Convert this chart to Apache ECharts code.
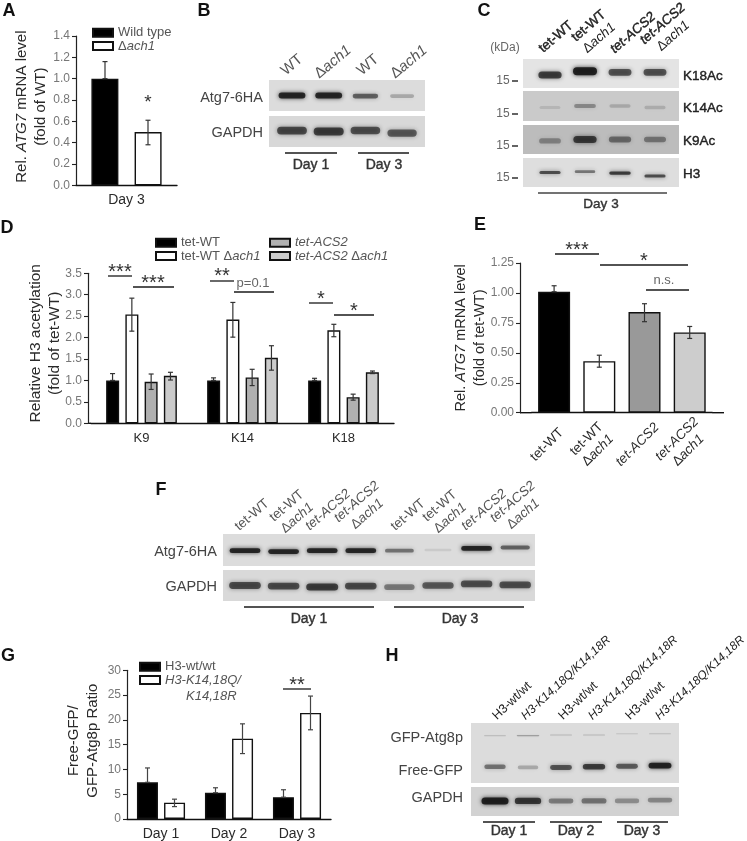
<!DOCTYPE html>
<html>
<head>
<meta charset="utf-8">
<style>
  html, body { margin: 0; background: #fff; }
  #main { width: 747px; height: 841px; }
</style>
<script src="https://cdn.jsdelivr.net/npm/echarts@6/dist/echarts.min.js"></script>
</head>
<body>
<div id="main"></div>
<script>
// panel A
const aCats = ['Day 3'];
const aWild = [1.0];
const aWildHi = [1.16];
const aAch1 = [0.5];
const aAch1Lo = [0.38];
const aAch1Hi = [0.61];

// panel D
const dCats = ['K9', 'K14', 'K18'];
const dTetWt = [1.0, 1.0, 1.0];
const dTetWtHi = [1.16, 1.06, 1.05];
const dTetWtAch1 = [2.54, 2.42, 2.17];
const dTetWtAch1Lo = [2.15, 2.01, 2.02];
const dTetWtAch1Hi = [2.92, 2.82, 2.31];
const dAcs2 = [0.97, 1.07, 0.61];
const dAcs2Lo = [0.79, 0.88, 0.54];
const dAcs2Hi = [1.15, 1.26, 0.68];
const dAcs2Ach1 = [1.11, 1.53, 1.19];
const dAcs2Ach1Lo = [1.01, 1.24, 1.16];
const dAcs2Ach1Hi = [1.19, 1.81, 1.22];

// panel E
const eCats = ['tet-WT', 'tet-WT Δach1', 'tet-ACS2', 'tet-ACS2 Δach1'];
const eValues = [1.01, 0.43, 0.84, 0.67];
const eLo = [1.01, 0.38, 0.76, 0.62];
const eHi = [1.06, 0.48, 0.91, 0.72];

// panel G
const gCats = ['Day 1', 'Day 2', 'Day 3'];
const gWt = [7.4, 5.3, 4.4];
const gWtHi = [10.3, 6.3, 5.9];
const gMut = [3.3, 16.2, 21.4];
const gMutLo = [2.5, 13.2, 18.0];
const gMutHi = [4.0, 19.2, 24.8];

// blot band strength per lane (0-1), read by eye
const bAtg7 = [0.95, 0.95, 0.6, 0.22];
const bGapdh = [0.72, 0.78, 0.68, 0.62];
const cK18 = [0.78, 1.0, 0.68, 0.68];
const cK14 = [0.06, 0.32, 0.14, 0.12];
const cK9 = [0.32, 0.78, 0.48, 0.4];
const cH3 = [0.72, 0.5, 0.82, 0.72];
const fAtg7 = [0.97, 0.95, 0.95, 0.95, 0.5, 0.04, 0.97, 0.58];
const fGapdh = [0.7, 0.7, 0.78, 0.7, 0.45, 0.62, 0.68, 0.68];
const hGfpAtg8 = [0.1, 0.26, 0.14, 0.14, 0.08, 0.12];
const hFreeGfp = [0.5, 0.22, 0.65, 0.8, 0.62, 0.98];
const hGapdh = [1.0, 0.82, 0.42, 0.46, 0.32, 0.36];

const FONT = '"Liberation Sans", Arial, sans-serif';
const TICK = '#777';
const INK = '#2a2a2a';

function toks(size, color) {
  const base = { fontSize: size, color: color, fill: color, fontFamily: FONT };
  return {
    i: Object.assign({ fontStyle: 'italic' }, base),
    n: Object.assign({}, base),
    s: Object.assign({ stroke: color, lineWidth: 0.4 }, base),
    si: Object.assign({ fontStyle: 'italic', stroke: color, lineWidth: 0.4 }, base)
  };
}

let grids = [], xAxes = [], yAxes = [], series = [], graphics = [];

function txt(x, y, text, o) {
  o = o || {};
  const size = o.size || 14, color = o.color || INK;
  const style = {
    text: text, fontFamily: FONT, fontSize: size, fontWeight: o.weight || 'normal',
    fontStyle: o.italic ? 'italic' : 'normal',
    fill: color, align: o.align || 'center', verticalAlign: 'middle', rich: toks(size, color),
    lineHeight: o.lh
  };
  if (o.semi) {
    style.stroke = color;
    style.lineWidth = 0.4;
  }
  graphics.push({ type: 'text', x: x, y: y, rotation: (o.rot || 0) * Math.PI / 180, silent: true, style: style });
}

function rule(x0, x1, y, color, w) {
  graphics.push({
    type: 'line', silent: true,
    shape: { x1: x0, y1: y, x2: x1, y2: y },
    style: { stroke: color || '#1a1a1a', lineWidth: w || 1.3 }
  });
}

// sig bar with its label above
function bracket(x0, x1, y, label, lx, ly, size, color) {
  rule(x0, x1, y);
  txt(lx, ly, label, { size: size || 20, color: color || '#333' });
}

function barOffset(i, n, w, gap) {
  return -((n * w + (n - 1) * gap) / 2) + w / 2 + i * (w + gap);
}

function errorBars(g, lo, hi, off, color) {
  series.push({
    type: 'custom', xAxisIndex: g, yAxisIndex: g, z: 5, silent: true,
    data: lo.map((v, i) => [i, v, hi[i]]),
    encode: { x: 0, y: [1, 2] },
    renderItem: function (params, api) {
      const a = api.coord([api.value(0), api.value(1)]);
      const b = api.coord([api.value(0), api.value(2)]);
      const x = a[0] + off;
      const st = { stroke: color || '#333', lineWidth: 1.2, fill: null };
      return {
        type: 'group',
        children: [
          { type: 'line', shape: { x1: x, y1: a[1], x2: x, y2: b[1] }, style: st },
          { type: 'line', shape: { x1: x - 2.5, y1: b[1], x2: x + 2.5, y2: b[1] }, style: st },
          { type: 'line', shape: { x1: x - 2.5, y1: a[1], x2: x + 2.5, y2: a[1] }, style: st }
        ]
      };
    }
  });
}

function barSeries(g, name, data, w, gapPct, fill, border) {
  series.push({
    name: name, type: 'bar', xAxisIndex: g, yAxisIndex: g, data: data, barWidth: w, barGap: gapPct,
    itemStyle: { color: fill, borderColor: border || '#111', borderWidth: 1.4 }, silent: true
  });
}

function chartPanel(o) {
  const g = grids.length;
  grids.push({ left: o.left, top: o.top, width: o.width, height: o.height });
  xAxes.push({
    gridIndex: g, type: 'category', data: o.cats,
    axisLine: { lineStyle: { color: '#111', width: 1.4 } },
    axisTick: { alignWithLabel: true, length: 4, lineStyle: { color: '#111', width: 1.2 } },
    axisLabel: Object.assign({ fontFamily: FONT, fontSize: o.catSize || 14, color: INK, margin: o.catMargin || 8, interval: 0 }, o.catLabel || {})
  });
  yAxes.push({
    gridIndex: g, type: 'value', min: o.min, max: o.max, interval: o.interval, offset: o.yOffset || 0,
    name: o.name, nameLocation: 'middle', nameRotate: 90, nameGap: o.nameGap, nameMoveOverlap: false,
    nameTextStyle: { fontFamily: FONT, fontSize: o.nameSize || 15, color: INK, lineHeight: o.nameLh || 19, rich: toks(o.nameSize || 15, INK), padding: o.namePad || 0 },
    axisLine: { show: true, lineStyle: { color: '#222', width: 1.2 } },
    axisTick: { show: true, length: 4, lineStyle: { color: '#222', width: 1.1 } },
    axisLabel: { fontFamily: FONT, fontSize: 12, color: TICK, margin: 6, formatter: v => v.toFixed(o.digits) },
    splitLine: { show: false }
  });
  return g;
}

// one blot strip: hidden value axes, lane index on x, height fraction on y
function blot(o) {
  const g = grids.length;
  grids.push({ left: o.left, top: o.top, width: o.width, height: o.height, show: true, backgroundColor: o.bg, borderWidth: 0 });
  xAxes.push({
    gridIndex: g, type: 'value', show: false, scale: true,
    min: (o.left - o.lane0) / o.step, max: (o.left + o.width - o.lane0) / o.step, splitLine: { show: false }
  });
  yAxes.push({ gridIndex: g, type: 'value', show: false, inverse: true, min: 0, max: 1, splitLine: { show: false } });
  o.rows.forEach(function (row) {
    series.push({
      type: 'custom', xAxisIndex: g, yAxisIndex: g, silent: true, z: 3,
      data: row.values.map((v, i) => [i, row.y[i], v]),
      encode: { x: 0, y: 1 },
      renderItem: function (params, api) {
        const p = api.coord([api.value(0), api.value(1)]);
        const a = api.value(2);
        const c = 'rgba(22,22,22,' + (0.06 + 0.84 * a).toFixed(2) + ')';
        const w = row.w * (0.86 + 0.14 * a);
        const h = row.h * (0.5 + 0.5 * a);
        return {
          type: 'rect',
          shape: { x: p[0] - w / 2, y: p[1] - h / 2, width: w, height: h, r: h / 2 },
          style: { fill: c, shadowBlur: row.blur || 4, shadowColor: c }
        };
      }
    });
  });
}

// ---------- A ----------
const A = chartPanel({
  left: 76, top: 36, width: 101, height: 149.3, cats: aCats, min: 0, max: 1.4, interval: 0.2, digits: 1,
  name: 'Rel. {i|ATG7} mRNA level\n{n|(fold of WT)}', nameGap: 26, namePad: [0, 0, 0, 8]
});
barSeries(A, 'Wild type', aWild, 27, '60%', '#000');
barSeries(A, 'Δach1', aAch1, 27, '60%', '#fff');
errorBars(A, aWild, aWildHi, barOffset(0, 2, 27, 16), '#333');
errorBars(A, aAch1Lo, aAch1Hi, barOffset(1, 2, 27, 16), '#333');

// ---------- D ----------
const D = chartPanel({
  left: 91, top: 273.3, width: 303, height: 150, cats: dCats, min: 0, max: 3.5, interval: 0.5, digits: 1,
  yOffset: 3, catSize: 13, catMargin: 9,
  name: 'Relative H3 acetylation\n(fold of tet-WT)', nameGap: 24, nameSize: 15.5, namePad: [0, 0, 0, 10]
});
[[dTetWt, dTetWt, dTetWtHi, '#000', 'tet-WT'],
 [dTetWtAch1, dTetWtAch1Lo, dTetWtAch1Hi, '#fff', 'tet-WT Δach1'],
 [dAcs2, dAcs2Lo, dAcs2Hi, '#b0b0b0', 'tet-ACS2'],
 [dAcs2Ach1, dAcs2Ach1Lo, dAcs2Ach1Hi, '#cbcbcb', 'tet-ACS2 Δach1']].forEach(function (s, i) {
  barSeries(D, s[4], s[0], 13, '48%', s[3]);
  errorBars(D, s[1], s[2], barOffset(i, 4, 13, 6.3), '#333');
});
rule(88, 91, 423.3, '#111', 1.4);

// ---------- E ----------
const eNames = {
  'tet-WT': '{n|tet-WT}',
  'tet-WT Δach1': '{n|tet-WT}\n{n|Δ}{i|ach1}',
  'tet-ACS2': '{i|tet-ACS2}',
  'tet-ACS2 Δach1': '{i|tet-ACS2}\n{n|Δ}{i|ach1}'
};
const E = chartPanel({
  left: 531.5, top: 263, width: 180.8, height: 149.7, cats: eCats, min: 0, max: 1.25, interval: 0.25, digits: 2,
  yOffset: 11.5,
  catLabel: {
    rotate: 45, align: 'center', verticalAlign: 'middle', margin: 25, padding: [0, 20, 0, 0],
    formatter: v => eNames[v], rich: toks(13.5, INK), lineHeight: 16
  },
  name: 'Rel. {i|ATG7} mRNA level\n{n|(fold of tet-WT)}', nameGap: 31, nameSize: 14.5
});
series.push({
  type: 'bar', xAxisIndex: E, yAxisIndex: E, barWidth: 32, silent: true,
  data: eValues.map((v, i) => ({ value: v, itemStyle: { color: ['#000', '#fff', '#999', '#cdcdcd'][i], borderColor: '#111', borderWidth: 1.4 } }))
});
errorBars(E, eLo, eHi, 0, '#333');
rule(520, 531.5, 412.7, '#111', 1.4);
rule(712.3, 724, 412.7, '#111', 1.4);

// ---------- G ----------
const G = chartPanel({
  left: 127, top: 670.3, width: 204, height: 149.7, cats: gCats, min: 0, max: 30, interval: 5, digits: 0,
  name: '{n|Free-GFP/}\n{n|GFP-Atg8p Ratio}', nameGap: 25, nameSize: 15, namePad: [0, 0, 0, 8]
});
barSeries(G, 'H3-wt/wt', gWt, 21, '29%', '#000');
barSeries(G, 'H3-K14,18Q/', gMut, 21, '29%', '#fff');
errorBars(G, gWt, gWtHi, barOffset(0, 2, 21, 6), '#444');
errorBars(G, gMutLo, gMutHi, barOffset(1, 2, 21, 6), '#444');

// ---------- blots ----------
// B
blot({ left: 269, top: 80, width: 156, height: 31, bg: '#dcdcdc', lane0: 292, step: 36.7, rows: [{ values: bAtg7, y: [0.5, 0.5, 0.52, 0.52], w: 27, h: 6 }] });
blot({ left: 269, top: 116, width: 156, height: 31, bg: '#d8d8d8', lane0: 292, step: 36.7, rows: [{ values: bGapdh, y: [0.47, 0.5, 0.47, 0.55], w: 31, h: 9 }] });
// C
blot({ left: 523, top: 59, width: 156, height: 29, bg: '#e4e4e4', lane0: 550, step: 35, rows: [{ values: cK18, y: [0.55, 0.42, 0.46, 0.46], w: 24, h: 8 }] });
blot({ left: 523, top: 91, width: 156, height: 30, bg: '#cacaca', lane0: 550, step: 35, rows: [{ values: cK14, y: [0.55, 0.5, 0.5, 0.55], w: 24, h: 6 }] });
blot({ left: 523, top: 125, width: 156, height: 29, bg: '#bcbcbc', lane0: 550, step: 35, rows: [{ values: cK9, y: [0.55, 0.5, 0.5, 0.5], w: 24, h: 8 }] });
blot({ left: 523, top: 158, width: 156, height: 29, bg: '#dedede', lane0: 550, step: 35, rows: [{ values: cH3, y: [0.5, 0.47, 0.52, 0.62], w: 22, h: 3.5 }] });
// F
blot({ left: 223, top: 534, width: 312, height: 32, bg: '#dcdcdc', lane0: 245, step: 38.6, rows: [{ values: fAtg7, y: [0.52, 0.55, 0.52, 0.52, 0.52, 0.5, 0.45, 0.42], w: 31, h: 5 }] });
blot({ left: 223, top: 570, width: 312, height: 31, bg: '#d9d9d9', lane0: 245, step: 38.6, rows: [{ values: fGapdh, y: [0.5, 0.52, 0.55, 0.52, 0.55, 0.5, 0.45, 0.48], w: 33, h: 8 }] });
// H
blot({
  left: 471, top: 723, width: 208, height: 60, bg: '#dcdcdc', lane0: 495, step: 33,
  rows: [
    { values: hGfpAtg8, y: [0.21, 0.21, 0.2, 0.2, 0.18, 0.18], w: 25, h: 2, blur: 2 },
    { values: hFreeGfp, y: [0.73, 0.74, 0.74, 0.73, 0.72, 0.71], w: 23, h: 6 }
  ]
});
blot({ left: 471, top: 787, width: 208, height: 29, bg: '#d2d2d2', lane0: 495, step: 33, rows: [{ values: hGapdh, y: [0.48, 0.48, 0.48, 0.48, 0.48, 0.45], w: 27, h: 7 }] });

// ---------- panel letters ----------
[['A', 9, 11], ['B', 204, 11], ['C', 484, 11], ['D', 7, 228], ['E', 480, 225], ['F', 161, 490], ['G', 8, 656], ['H', 392, 656]].forEach(function (p) {
  txt(p[1], p[2], p[0], { size: 18, weight: 'bold', color: '#111' });
});

// ---------- sig marks ----------
txt(148, 103, '*', { size: 19, color: '#333' });
bracket(108, 132, 276, '***', 120, 272);
bracket(133, 174, 287, '***', 153, 283);
bracket(210, 234, 281, '**', 222, 276);
bracket(234, 274, 292, 'p=0.1', 253, 283, 13, '#666');
bracket(309, 333, 303, '*', 321, 299);
bracket(334, 374, 315, '*', 354, 311);
bracket(555, 599, 254, '***', 577, 250);
bracket(600, 688, 265, '*', 644, 261);
bracket(646, 689, 290, 'n.s.', 664, 280, 13, '#666');
bracket(283, 311, 689, '**', 297, 685);
txt(186, 696, '{i|K14,18R}', { size: 13, color: '#555', align: 'left' });

// ---------- blot labels ----------
function rightLabels(list, x) {
  list.forEach(l => txt(x, l[1], l[0], { align: 'right', size: 14.5, color: '#444' }));
}
rightLabels([['Atg7-6HA', 98], ['GAPDH', 133]], 263);
rightLabels([['Atg7-6HA', 552], ['GAPDH', 587]], 217);
rightLabels([['GFP-Atg8p', 738], ['Free-GFP', 771], ['GAPDH', 798]], 463);

// B
txt(292, 65, 'WT', { size: 15, color: '#555', rot: 40 });
txt(333, 62, '{n|Δ}{i|ach1}', { size: 15, color: '#555', rot: 40 });
txt(368, 65, 'WT', { size: 15, color: '#555', rot: 40 });
txt(409, 62, '{n|Δ}{i|ach1}', { size: 15, color: '#555', rot: 40 });
rule(285, 337, 153); rule(358, 409, 153);
txt(311, 165, 'Day 1', { size: 14, semi: true, color: '#333' });
txt(384, 165, 'Day 3', { size: 14, semi: true, color: '#333' });

// C
txt(505, 48, '(kDa)', { size: 12, color: '#666' });
[[81, 'K18Ac', 76], [114, 'K14Ac', 108], [146, 'K9Ac', 141], [178, 'H3', 174]].forEach(function (r) {
  txt(503, r[0], '15', { size: 12, color: '#666' });
  rule(512, 518, r[0], '#222', 1.4);
  txt(683, r[2], r[1], { size: 13.5, semi: true, color: '#222', align: 'left' });
});
txt(556, 37, '{s|tet-WT}', { size: 13.5, color: '#222', rot: 41 });
txt(594, 32, '{s|tet-WT}\n{n|Δ}{i|ach1}', { size: 13.5, color: '#222', rot: 41, lh: 16 });
txt(633, 33, '{si|tet-ACS2}', { size: 13.5, color: '#222', rot: 41 });
txt(668, 30, '{si|tet-ACS2}\n{n|Δ}{i|ach1}', { size: 13.5, color: '#222', rot: 41, lh: 16 });
rule(538, 667, 193, '#444');
txt(601, 204, 'Day 3', { size: 13.5, color: '#333', semi: true });

// F
[[252, 515, 'tet-WT'], [292, 512, 'tet-WT\n{n|Δ}{i|ach1}'], [328, 510, '{i|tet-ACS2}'], [362, 508, '{i|tet-ACS2}\n{n|Δ}{i|ach1}'],
 [408, 515, 'tet-WT'], [445, 512, 'tet-WT\n{n|Δ}{i|ach1}'], [484, 510, '{i|tet-ACS2}'], [518, 508, '{i|tet-ACS2}\n{n|Δ}{i|ach1}']].forEach(function (l) {
  txt(l[0], l[1], l[2], { size: 13.5, color: '#555', rot: 41, lh: 16 });
});
rule(244, 374, 607); rule(394, 524, 607);
txt(309, 619, 'Day 1', { size: 14, semi: true, color: '#333' });
txt(460, 619, 'Day 3', { size: 14, semi: true, color: '#333' });

// H
[512, 578, 645].forEach(x => txt(x, 701, 'H3-wt/wt', { size: 12.5, color: '#222', rot: 44 }));
[[566, 678], [633, 678], [700, 678]].forEach(p => txt(p[0], p[1], '{i|H3-K14,18Q/K14,18R}', { size: 12, color: '#222', rot: 43 }));
rule(483, 535, 822); rule(550, 602, 822); rule(617, 668, 822);
txt(509, 831, 'Day 1', { size: 14, semi: true, color: '#333' });
txt(576, 831, 'Day 2', { size: 14, semi: true, color: '#333' });
txt(642, 831, 'Day 3', { size: 14, semi: true, color: '#333' });

// ---------- legends ----------
const legendRich = {
  'Wild type': '{n|Wild type}',
  'Δach1': '{n|Δ}{i|ach1}',
  'tet-WT': '{n|tet-WT}',
  'tet-WT Δach1': '{n|tet-WT Δ}{i|ach1}',
  'tet-ACS2': '{i|tet-ACS2}',
  'tet-ACS2 Δach1': '{i|tet-ACS2 }{n|Δ}{i|ach1}',
  'H3-wt/wt': '{n|H3-wt/wt}',
  'H3-K14,18Q/': '{i|H3-K14,18Q/}'
};
function legendAt(names, left, top) {
  return {
    data: names, left: left, top: top, orient: 'vertical', padding: 0, itemGap: 0,
    itemWidth: 20, itemHeight: 8, selectedMode: false, icon: 'rect',
    formatter: n => legendRich[n],
    textStyle: { fontFamily: FONT, fontSize: 13, lineHeight: 13.3, color: '#555', rich: toks(13, '#555') }
  };
}

const option = {
  animation: false,
  backgroundColor: '#fff',
  textStyle: { fontFamily: FONT },
  tooltip: { show: false },
  legend: [
    legendAt(['Wild type', 'Δach1'], 92, 26),
    legendAt(['tet-WT', 'tet-WT Δach1'], 155, 236),
    legendAt(['tet-ACS2', 'tet-ACS2 Δach1'], 269, 236),
    legendAt(['H3-wt/wt', 'H3-K14,18Q/'], 139, 660)
  ],
  grid: grids,
  xAxis: xAxes,
  yAxis: yAxes,
  series: series,
  graphic: { elements: graphics }
};

const chart = echarts.init(document.getElementById('main'));
chart.setOption(option);
</script>
</body>
</html>
